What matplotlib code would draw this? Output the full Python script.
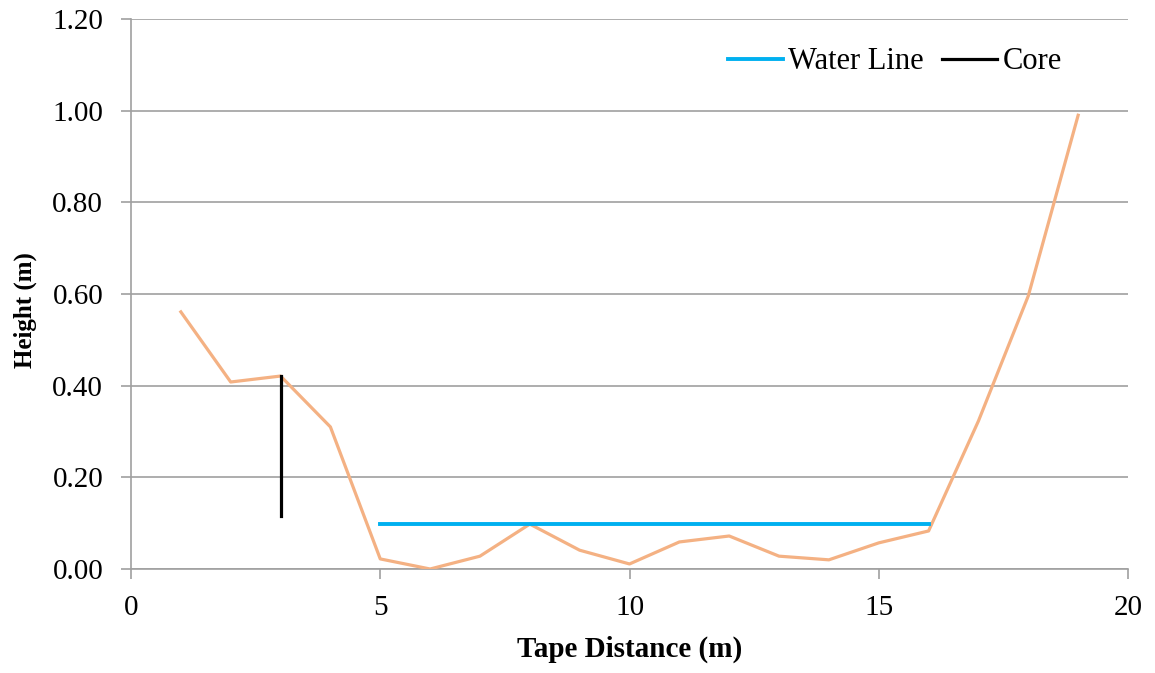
"""Channel cross-section profile with water line and core position."""
import matplotlib
matplotlib.use("Agg")
import matplotlib.pyplot as plt

# Surveyed profile: tape distance (m) vs. height (m)
tape_distance = [1, 2, 3, 4, 5, 6, 7, 8, 9, 10, 11, 12, 13, 14, 15, 16, 17, 18, 19]
height = [0.561, 0.408, 0.421, 0.310, 0.022, 0.000, 0.028, 0.098, 0.041, 0.011,
          0.059, 0.072, 0.028, 0.020, 0.057, 0.083, 0.323, 0.596, 0.990]

# Water line across the channel
water_x = [5, 16]
water_y = [0.098, 0.098]

# Core position
core_x = [3, 3]
core_y = [0.116, 0.421]

y_ticks = [0.0, 0.2, 0.4, 0.6, 0.8, 1.0, 1.2]
x_ticks = [0, 5, 10, 15, 20]

plt.rcParams["font.family"] = ["Liberation Serif", "DejaVu Serif"]

fig = plt.figure(figsize=(11.55, 6.73), dpi=100)
ax = fig.add_axes([131 / 1155, 104 / 673, 997 / 1155, 550 / 673])

ax.plot(tape_distance, height, color="#F4B183", linewidth=2.3, zorder=3)
ax.plot(water_x, water_y, color="#00B0F0", linewidth=2.8, label="Water Line", zorder=4)
ax.plot(core_x, core_y, color="black", linewidth=2.3, label="Core", zorder=4)

ax.set_xlim(0, 20)
ax.set_ylim(0, 1.2)
ax.set_xticks(x_ticks)
ax.set_yticks(y_ticks)
ax.set_yticklabels([f"{v:.2f}" for v in y_ticks])

ax.grid(True, axis="y", color="#A0A0A0", linewidth=1.2, zorder=1)
ax.set_axisbelow(True)
for side in ("top", "right"):
    ax.spines[side].set_visible(False)
for side in ("left", "bottom"):
    ax.spines[side].set_color("#A0A0A0")
    ax.spines[side].set_linewidth(1.2)
ax.tick_params(axis="both", colors="#A0A0A0", width=1.2, length=7, labelsize=21,
               labelcolor="black")
ax.tick_params(axis="x", pad=12)
ax.tick_params(axis="y", pad=13)

ax.set_xlabel("Tape Distance (m)", fontsize=21, fontweight="bold")
ax.xaxis.set_label_coords(0.5, -0.122)
ax.set_ylabel("Height (m)", fontsize=18, fontweight="bold")
ax.yaxis.set_label_coords(-0.094, 0.471)

ax.legend(loc="center left", bbox_to_anchor=(0.599, 0.922), ncol=2, frameon=False,
          fontsize=22, handlelength=1.8, handletextpad=0.17, columnspacing=0.6,
          borderpad=0, borderaxespad=0)

fig.savefig("out.png", dpi=100)
